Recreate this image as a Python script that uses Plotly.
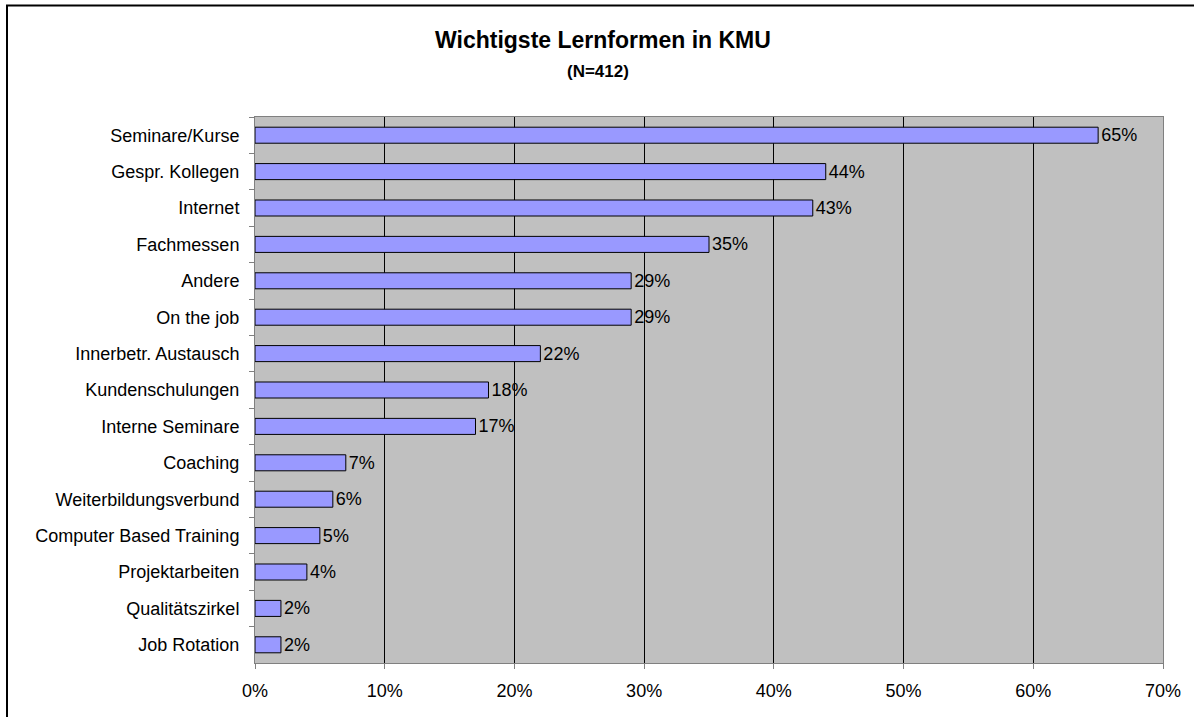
import plotly.graph_objects as go

categories = ["Seminare/Kurse", "Gespr. Kollegen", "Internet", "Fachmessen", "Andere",
              "On the job", "Innerbetr. Austausch", "Kundenschulungen", "Interne Seminare",
              "Coaching", "Weiterbildungsverbund", "Computer Based Training",
              "Projektarbeiten", "Qualitätszirkel", "Job Rotation"]
values = [65, 44, 43, 35, 29, 29, 22, 18, 17, 7, 6, 5, 4, 2, 2]
x_ticks = [0, 10, 20, 30, 40, 50, 60, 70]
x_tick_labels = ["0%", "10%", "20%", "30%", "40%", "50%", "60%", "70%"]
title_text = "Wichtigste Lernformen in KMU"
subtitle_text = "(N=412)"

FONT = "Liberation Sans, Arial, sans-serif"
W, H = 1194, 717
L, R, T, B = 255, 1163, 117, 663

def px(x):
    return (x - L) / (R - L)

def py(y):
    return (B - y) / (B - T)

fig = go.Figure(go.Bar(
    x=values, y=categories, orientation="h",
    marker=dict(color="#9999FF", line=dict(color="black", width=1)),
    text=[f"{v}%" for v in values], textposition="outside", cliponaxis=False,
    constraintext="none",
    textfont=dict(family=FONT, size=18, color="black"),
))

fig.update_layout(
    width=W, height=H,
    margin=dict(l=L, r=W - R, t=T, b=H - B, autoexpand=False),
    paper_bgcolor="white", plot_bgcolor="#C0C0C0",
    bargap=0.56, showlegend=False,
    font=dict(family=FONT, size=18, color="black"),
    xaxis=dict(range=[0, 70], tickvals=x_ticks, ticktext=x_tick_labels, automargin=False,
               showgrid=True, gridcolor="black", gridwidth=1,
               ticks="outside", ticklen=5, tickcolor="#808080",
               showline=True, linecolor="#808080", linewidth=1, mirror=True,
               zeroline=False, tickfont=dict(size=18), ticklabelstandoff=6),
    yaxis=dict(type="category", autorange="reversed", tickson="boundaries", automargin=False,
               ticks="outside", ticklen=5, tickcolor="#808080",
               showgrid=False, showline=True, linecolor="#808080", linewidth=1, mirror=True,
               tickfont=dict(size=18), ticklabelstandoff=11),
    annotations=[
        dict(text="<b>" + title_text + "</b>", x=px(603), y=py(40), xref="paper", yref="paper",
             xanchor="center", yanchor="middle", showarrow=False,
             font=dict(family=FONT, size=23, color="black")),
        dict(text="<b>" + subtitle_text + "</b>", x=px(598), y=py(71), xref="paper", yref="paper",
             xanchor="center", yanchor="middle", showarrow=False,
             font=dict(family=FONT, size=17, color="black")),
    ],
    shapes=[
        dict(type="line", xref="paper", yref="paper",
             x0=px(7), x1=px(7), y0=py(717), y1=py(5),
             line=dict(color="black", width=2), layer="above"),
        dict(type="line", xref="paper", yref="paper",
             x0=px(6), x1=px(1194), y0=py(5.5), y1=py(5.5),
             line=dict(color="black", width=2), layer="above"),
    ],
)

fig.write_html("out.html", config={"displayModeBar": False},
               post_script="document.body.style.margin='0';document.body.style.overflow='hidden';")
